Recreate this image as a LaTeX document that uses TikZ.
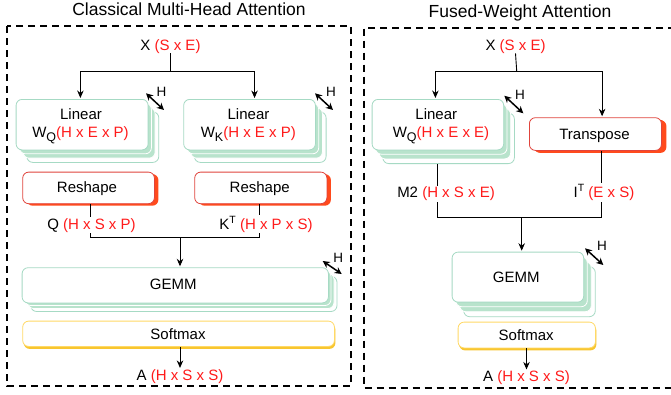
\documentclass[tikz,border=0pt]{standalone}
\usepackage{fontspec}
\setmainfont{Liberation Sans}
\usetikzlibrary{arrows.meta,shadows}
\definecolor{gline}{HTML}{A6DAC4}
\definecolor{gfill}{HTML}{B8E3CC}
\definecolor{rline}{HTML}{E0443C}
\definecolor{rshad}{HTML}{FF4A1C}
\definecolor{yline}{HTML}{FFD966}
\definecolor{yshad}{HTML}{F8C630}
\definecolor{tred}{HTML}{FF1A1A}
\newcommand{\mysub}[1]{\raisebox{-3.5pt}{\fontsize{12.5}{12.5}\selectfont #1}}
\newcommand{\mysup}[1]{\raisebox{6pt}{\fontsize{10.5}{10.5}\selectfont #1}}
\newcommand{\rd}[1]{\textcolor{tred}{#1}}
\newcommand{\mylayers}[6]{%
  \draw[lay3] ({#1+3*#5},{#2+3*#6}) rectangle ({#3+3*#5},{#4+3*#6});
  \draw[lay12] ({#1+2*#5},{#2+2*#6}) rectangle ({#3+2*#5},{#4+2*#6});
  \draw[lay12] ({#1+#5},{#2+#6}) rectangle ({#3+#5},{#4+#6});
}
\tikzset{
  lay3/.style={draw=gline, fill=white, line width=0.8pt, rounded corners=6pt},
  lay12/.style={draw=white, fill=gfill, line width=0.8pt, rounded corners=6pt},
  frontg/.style={draw=gline, fill=white, line width=0.8pt, rounded corners=6pt, inner sep=0pt, anchor=north west},
  redbox/.style={draw=rline, fill=white, line width=0.8pt, rounded corners=6pt, inner sep=0pt, anchor=north west,
    drop shadow={shadow xshift=4pt, shadow yshift=-2pt, fill=rshad, opacity=1}},
  ybox/.style={draw=yline, fill=white, line width=0.8pt, rounded corners=6pt, inner sep=0pt, anchor=north west,
    drop shadow={shadow xshift=1pt, shadow yshift=-2.5pt, fill=yshad, opacity=1}},
  txt/.style={inner sep=0pt, anchor=base},
  lbl/.style={inner sep=1pt, anchor=base, fill=white},
  arr/.style={-{Stealth[length=7.5pt,width=6.5pt]}, line width=0.9pt, shorten >=1pt},
  conn/.style={line width=0.9pt},
  harr/.style={{Stealth[length=7pt,width=7pt]}-{Stealth[length=7pt,width=7pt]}, line width=1.5pt},
  dbox/.style={dash pattern=on 7pt off 5pt, line width=2pt},
  htxt/.style={inner sep=0pt, anchor=base, font=\fontsize{13.5}{15}\selectfont},
  ttl/.style={inner sep=0pt, anchor=base, font=\fontsize{17.5}{20}\selectfont},
}
\begin{document}
\begin{tikzpicture}[x=1pt,y=-1pt,font=\fontsize{15}{18}\selectfont]
\useasboundingbox (0,0) rectangle (671,394);
\clip (0,0) rectangle (671,394);
\fill[white] (0,0) rectangle (671,394);

% ---------------- left panel ----------------
\draw[dbox] (7,26) rectangle (351,386);
\node[ttl] (t1) at (189,15.8) {Classical Multi-Head Attention};
\node[txt] (xl) at (170.5,50) {X \rd{(S x E)}};

\mylayers{15.7}{99}{147.7}{149.5}{3.7}{4.3}
\node[frontg, minimum width=132pt, minimum height=50.5pt] (linq) at (15.7,99) {};
\node[txt] (linqa) at (81,119) {Linear};
\node[txt] (linqb) at (80.5,137.7) {W\mysub{Q}\rd{(H x E x P)}};

\mylayers{183.3}{99}{315}{149.5}{3.7}{4.3}
\node[frontg, minimum width=131.7pt, minimum height=50.5pt] (link) at (183.3,99) {};
\node[txt] (linka) at (248.5,119) {Linear};
\node[txt] (linkb) at (248.3,137.7) {W\mysub{K}\rd{(H x E x P)}};

\node[redbox, minimum width=131.7pt, minimum height=31.6pt] (resq) at (22.3,171.7) {};
\node[txt] (resqt) at (87,192.5) {Reshape};
\node[redbox, minimum width=132.2pt, minimum height=31.6pt] (resk) at (194.3,171.7) {};
\node[txt] (reskt) at (259.7,192.5) {Reshape};

\mylayers{21.7}{267.3}{328}{302.5}{3}{3}
\node[frontg, minimum width=306.3pt, minimum height=35.2pt] (gemml) at (21.7,267.3) {};
\node[txt] (gemmlt) at (173.3,289.3) {GEMM};

\node[ybox, minimum width=311.7pt, minimum height=25.3pt] (smaxl) at (22.3,320.7) {};
\node[txt] (smaxlt) at (178,339.3) {Softmax};
\node[txt] (al) at (180,380) {A \rd{(H x S x S)}};

% connectors left
\coordinate (jl) at (170.5,71);
\draw[conn] (xl.south) -- (jl);
\draw[arr] (jl) -| ([xshift=-1.7pt]linq.north);
\draw[arr] (jl) -| ([xshift=5pt]link.north);
\coordinate (qb) at (90.7,237.3);
\coordinate (kb) at (259.3,237.3);
\coordinate (gq) at (180,237.3);
\draw[conn] (qb |- resq.south) -- (qb) -- (kb) -- (kb |- resk.south);
\draw[arr] (gq) -- (gq |- gemml.north);
\draw[arr] (smaxl.south -| al) -- (al.north);
\node[lbl] (ql) at (91.5,229) {Q \rd{(H x S x P)}};
\node[lbl] (kl) at (266,229) {K\mysup{T} \rd{(H x P x S)}};

% H arrows left
\coordinate (h1a) at (146,93.3); \coordinate (h1b) at (164,110);
\draw[harr] (h1a) -- (h1b);
\node[htxt] (h1) at (161.5,96) {H};
\coordinate (h2a) at (315,93.3); \coordinate (h2b) at (333,110);
\draw[harr] (h2a) -- (h2b);
\node[htxt] (h2) at (331,96) {H};
\coordinate (h3a) at (322.7,261); \coordinate (h3b) at (341.7,274);
\draw[harr] (h3a) -- (h3b);
\node[htxt] (h3) at (338.3,262.8) {H};

% ---------------- right panel ----------------
\draw[dbox] (675,27.5) -- (364,27.5) -- (364,388) -- (675,388);
\node[ttl] (t2) at (520,17) {Fused-Weight Attention};
\node[txt] (xr) at (515.5,50) {X \rd{(S x E)}};

\mylayers{371.7}{99}{503.3}{149.5}{3.7}{4.7}
\node[frontg, minimum width=131.6pt, minimum height=50.5pt] (linqr) at (371.7,99) {};
\node[txt] (linqra) at (436.3,119) {Linear};
\node[txt] (linqrb) at (441,137.7) {W\mysub{Q}\rd{(H x E x E)}};

\node[redbox, minimum width=132pt, minimum height=32.7pt,
  drop shadow={shadow xshift=5pt, shadow yshift=-2.5pt, fill=rshad, opacity=1}] (trans) at (529,117.3) {};
\node[txt] (transt) at (594.5,139.3) {Transpose};

\mylayers{451.7}{251.7}{583.3}{301.7}{4}{5}
\node[frontg, minimum width=131.6pt, minimum height=50pt] (gemmr) at (451.7,251.7) {};
\node[txt] (gemmrt) at (516.3,282.3) {GEMM};

\node[ybox, minimum width=137.3pt, minimum height=25.8pt] (smaxr) at (457.7,321.7) {};
\node[txt] (smaxrt) at (526.2,340) {Softmax};
\node[txt] (ar) at (526.5,381.5) {A \rd{(H x S x S)}};

% connectors right
\coordinate (jr) at (516.7,71);
\draw[conn] (xr.south) -- (jr);
\draw[arr] (jr) -| ([xshift=-2.5pt]linqr.north);
\draw[arr] (jr) -| ([xshift=6.7pt]trans.north);
\coordinate (mtop) at (437.7,164.3);
\coordinate (mb) at (437.7,217.3);
\coordinate (ib) at (601.7,217.3);
\coordinate (gb) at (521.7,217.3);
\draw[conn] (mtop) -- (mb) -- (ib) -- (ib |- trans.south);
\draw[arr] (gb) -- (gb |- gemmr.north);
\draw[arr] (smaxr.south -| ar) -- (ar.north);
\node[lbl] (m2l) at (446,197.7) {M2 \rd{(H x S x E)}};
\node[lbl] (itl) at (604,197.7) {I\mysup{T} \rd{(E x S)}};

\coordinate (h4a) at (504.3,95.7); \coordinate (h4b) at (523.3,113.3);
\draw[harr] (h4a) -- (h4b);
\node[htxt] (h4) at (520,99) {H};
\coordinate (h5a) at (585,248.3); \coordinate (h5b) at (603.3,265);
\draw[harr] (h5a) -- (h5b);
\node[htxt] (h5) at (602,250.5) {H};
\end{tikzpicture}
\end{document}
